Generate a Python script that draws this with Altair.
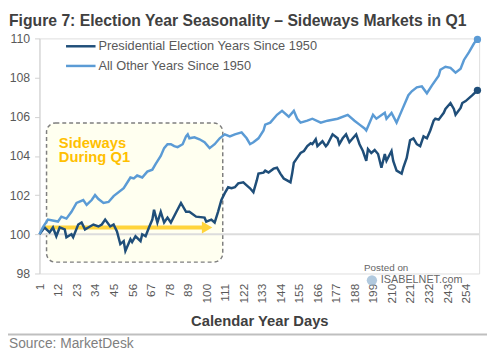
import altair as alt
import pandas as pd

FONT = "Liberation Sans"

# ---------------- data ----------------
series_names = ["Presidential Election Years Since 1950", "All Other Years Since 1950"]
series_colors = ["#1F4E79", "#5B9BD5"]

pres_days = [1, 4, 7, 9, 11, 13, 16, 17, 20, 21, 24, 26, 28, 30, 33, 36, 38, 40, 43, 45,
             47, 49, 51, 52, 55, 56, 58, 61, 62, 64, 66, 68, 69, 71, 73, 75, 77, 79, 82, 85,
             88, 90, 94, 99, 100, 103, 105, 107, 109, 111, 113, 115, 117, 119, 122, 124, 126, 128, 130, 131,
             134, 135, 137, 140, 142, 144, 146, 148, 150, 151, 152, 154, 156, 158, 160, 162, 163, 165, 166, 169,
             171, 172, 175, 178, 179, 181, 183, 185, 187, 189, 191, 193, 195, 196, 198, 200, 202, 204, 206, 207,
             210, 211, 213, 216, 217, 219, 221, 223, 225, 227, 229, 231, 233, 235, 236, 238, 241, 242, 245, 247,
             248, 251, 252, 254, 256, 258, 261]
pres_vals = [100.0, 100.35, 100.1, 100.35, 99.9, 100.35, 100.25, 99.85, 100.0, 99.85, 100.5, 100.6, 100.25, 100.35, 100.5, 100.4, 100.5, 100.75, 100.4, 100.5,
             100.15, 99.5, 99.65, 99.15, 99.75, 99.6, 99.9, 99.65, 100.0, 99.9, 100.35, 100.75, 101.25, 100.6, 101.15, 100.6, 100.85, 100.6, 101.1, 101.6,
             101.15, 101.15, 100.9, 100.85, 100.65, 100.75, 100.6, 101.15, 101.75, 102.1, 102.4, 102.35, 102.4, 102.6, 102.65, 102.5, 102.35, 102.15, 102.75, 103.1,
             103.15, 103.25, 103.15, 103.35, 103.4, 103.1, 102.85, 102.75, 102.65, 103.1, 103.65, 103.9, 104.15, 104.25, 104.5, 104.65, 104.6, 104.85, 104.5, 104.75,
             104.5, 104.6, 105.1, 104.9, 104.6, 104.9, 105.1, 104.7, 104.9, 105.1, 104.6, 104.25, 103.75, 104.35, 104.15, 104.3, 104.1, 103.4, 104.1, 103.75,
             104.25, 103.75, 103.25, 103.1, 103.4, 103.9, 104.8, 104.9, 104.6, 104.5, 105.0, 104.9, 105.3, 105.8, 105.9, 105.85, 106.2, 106.4, 106.7, 106.4,
             106.1, 106.45, 106.7, 106.8, 106.95, 107.1, 107.35]

other_days = [1, 3, 6, 12, 14, 17, 20, 23, 27, 29, 32, 34, 36, 39, 42, 45, 51, 55, 57, 59,
              62, 65, 68, 70, 73, 75, 77, 79, 81, 83, 86, 88, 89, 90, 93, 96, 99, 102, 105, 108,
              111, 114, 117, 121, 124, 126, 128, 131, 134, 135, 138, 142, 145, 149, 152, 154, 156, 160, 163, 168,
              172, 178, 184, 188, 191, 194, 195, 199, 201, 206, 207, 210, 213, 216, 220, 222, 225, 228, 231, 234,
              238, 239, 242, 245, 248, 251, 253, 256, 259, 261]
other_vals = [100.0, 100.35, 100.75, 100.65, 100.9, 100.8, 101.15, 101.6, 101.75, 101.5, 101.75, 102.0, 101.8, 101.6, 101.65, 101.95, 102.35, 102.9, 102.85, 103.0,
              102.9, 103.2, 103.3, 103.6, 104.0, 104.4, 104.6, 104.6, 104.5, 104.45, 104.6, 105.0, 105.1, 104.9, 104.95, 104.85, 104.7, 104.4, 104.6, 104.9,
              105.1, 105.0, 105.1, 105.2, 104.9, 104.6, 104.7, 104.9, 105.3, 105.6, 105.7, 106.1, 106.3, 106.0, 106.3, 105.9, 105.7, 105.8, 105.9, 105.7,
              105.8, 105.9, 106.1, 105.8, 105.6, 105.4, 105.3, 106.1, 105.9, 106.2, 105.9, 106.2, 105.7, 106.3, 107.1, 107.3, 107.5, 107.55, 107.2, 107.6,
              108.1, 108.4, 108.55, 108.5, 108.25, 108.45, 108.9, 109.3, 109.75, 109.95]

x_tick_values = [1, 12, 23, 34, 45, 56, 67, 78, 89, 100, 111, 122, 133, 144, 155, 166, 177, 188, 199, 210, 221, 232, 243, 254]
y_tick_values = [98, 100, 102, 104, 106, 108, 110]

# annotation (data coordinates)
box_days = [5.2, 109.8]
box_vals = [98.58, 105.68]
arrow_days = [3, 98]
arrow_head_day = [100.5]
arrow_level = [100.35]
label_day = [12.5]
label_lines = ["Sideways", "During Q1"]
label_vals = [104.42, 103.67]
baseline_val = [100]

# ---------------- frames ----------------
df_lines = pd.concat([
    pd.DataFrame({"day": pres_days, "value": pres_vals, "series": series_names[0]}),
    pd.DataFrame({"day": other_days, "value": other_vals, "series": series_names[1]}),
])
df_end_pres = pd.DataFrame({"day": [pres_days[-1]], "value": [pres_vals[-1]]})
df_end_other = pd.DataFrame({"day": [other_days[-1]], "value": [other_vals[-1]]})
df_box = pd.DataFrame({"day": [box_days[0]], "day2": [box_days[1]], "value": [box_vals[0]], "value2": [box_vals[1]]})
df_arrow = pd.DataFrame({"day": [arrow_days[0]], "day2": [arrow_days[1]], "value": arrow_level})
df_head = pd.DataFrame({"day": arrow_head_day, "value": arrow_level})
df_label = pd.DataFrame({"day": label_day * 2, "value": label_vals, "t": label_lines})
df_base = pd.DataFrame({"value": baseline_val})

W, H = 447, 239

xs = alt.Scale(domain=[1, 262], nice=False, zero=False)
ys = alt.Scale(domain=[98, 110], nice=False, zero=False)

x_axis = alt.Axis(values=x_tick_values, labelAngle=-90, domain=False, ticks=False, grid=False,
                  labelFontSize=12, labelColor="#595959", labelFont=FONT, labelPadding=10,
                  labelOverlap=False, labelFlush=False,
                  title="Calendar Year Days", titleFontSize=15, titleFont=FONT, titleFontWeight="bold",
                  titleColor="#404040", titlePadding=11)
y_axis = alt.Axis(values=y_tick_values, domain=True, domainColor="#D0D0D0", domainWidth=1,
                  ticks=True, tickColor="#D0D0D0", tickSize=5, grid=False,
                  labelFontSize=12.5, labelColor="#595959", labelFont=FONT, labelPadding=5, title=None)

x_enc = alt.X("day:Q", scale=xs, axis=x_axis)
y_enc = alt.Y("value:Q", scale=ys, axis=y_axis)

box = alt.Chart(df_box).mark_rect(fill="#FFFFF0", stroke="#7F7F7F", strokeWidth=1.5,
                                  strokeDash=[4, 3], cornerRadius=9).encode(
    x=x_enc, x2=alt.X2("day2"), y=y_enc, y2=alt.Y2("value2"))

base = alt.Chart(df_base).mark_rule(color="#DCDCDC", strokeWidth=2).encode(y=y_enc)

arrow = alt.Chart(df_arrow).mark_rule(color="#FFD43B", strokeWidth=4).encode(
    x=x_enc, x2=alt.X2("day2"), y=y_enc)
head = alt.Chart(df_head).mark_point(shape="triangle-right", filled=True, color="#FFD43B",
                                     opacity=1, size=150).encode(x=x_enc, y=y_enc)

label = alt.Chart(df_label).mark_text(align="left", baseline="alphabetic", font=FONT,
                                      fontWeight="bold", fontSize=15, color="#FFC000").encode(
    x=x_enc, y=y_enc, text="t:N")

lines = alt.Chart(df_lines).mark_line(strokeWidth=2.5).encode(
    x=x_enc, y=y_enc,
    color=alt.Color("series:N",
                    scale=alt.Scale(domain=series_names, range=series_colors),
                    legend=None),
    detail="series:N")

dot_pres = alt.Chart(df_end_pres).mark_circle(size=55, color=series_colors[0], opacity=1).encode(x=x_enc, y=y_enc)
dot_other = alt.Chart(df_end_other).mark_circle(size=55, color=series_colors[1], opacity=1).encode(x=x_enc, y=y_enc)

# legend drawn by hand (pixel positions relative to plot area)
legend_layers = []
for i, (name, col) in enumerate(zip(series_names, series_colors)):
    d = pd.DataFrame({"t": [name]})
    yy = 8 + 20 * i
    legend_layers.append(alt.Chart(d).mark_rule(color=col, strokeWidth=2.5).encode(
        x=alt.value(27), x2=alt.value(57), y=alt.value(yy)))
    legend_layers.append(alt.Chart(d).mark_text(align="left", baseline="middle", font=FONT,
                                                fontSize=13, color="#595959").encode(
        x=alt.value(60), y=alt.value(yy), text="t:N"))

# footer decorations (pixel positions relative to plot area)
df_src = pd.DataFrame({"t": ["Source: MarketDesk"]})
src = alt.Chart(df_src).mark_text(align="left", baseline="alphabetic", font=FONT, fontSize=14,
                                  color="#7F7F7F").encode(x=alt.value(-31), y=alt.value(315), text="t:N")
sep = alt.Chart(df_src).mark_rule(color="#BFBFBF", strokeWidth=2).encode(
    x=alt.value(-32), x2=alt.value(W + 8), y=alt.value(301))

df_wm1 = pd.DataFrame({"t": ["Posted on"]})
df_wm2 = pd.DataFrame({"t": ["ISABELNET.com"]})
wm1 = alt.Chart(df_wm1).mark_text(align="left", baseline="middle", font=FONT, fontSize=10,
                                  color="#666666").encode(x=alt.value(330), y=alt.value(233), text="t:N")
wm2 = alt.Chart(df_wm2).mark_text(align="left", baseline="middle", font=FONT, fontSize=11,
                                  color="#666666").encode(x=alt.value(347), y=alt.value(246), text="t:N")
logo = alt.Chart(df_wm1).mark_circle(size=110, color="#9DBBD6", opacity=0.8).encode(
    x=alt.value(338), y=alt.value(246))

chart = alt.layer(box, base, arrow, head, label, lines, dot_pres, dot_other, *legend_layers,
                  sep, src, logo, wm1, wm2).properties(
    width=W, height=H,
    title=alt.TitleParams("Figure 7: Election Year Seasonality – Sideways Markets in Q1",
                          anchor="start", frame="group", dx=-31, offset=4, fontSize=16,
                          font=FONT, fontWeight="bold", color="#404040"),
    autosize=alt.AutoSizeParams(type="none"),
    padding={"left": 32, "top": 28, "right": 8, "bottom": 82},
).configure_view(stroke=None).configure(background="white")

chart.save("out.html", embed_options={"renderer": "svg", "actions": False})
